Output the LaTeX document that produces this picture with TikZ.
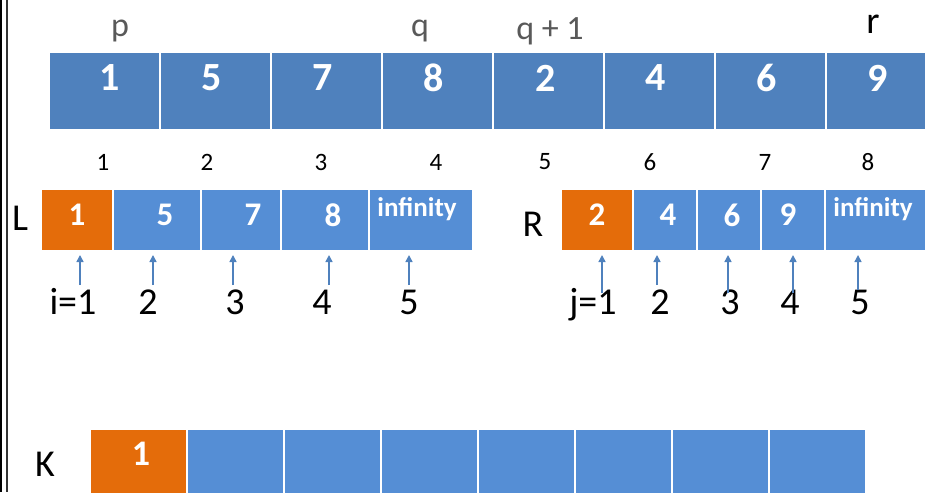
\documentclass[tikz,border=0pt]{standalone}
\usepackage{fontspec}
\setmainfont{Carlito}
\usetikzlibrary{arrows.meta}
\definecolor{topblue}{HTML}{4F81BD}
\definecolor{lowblue}{HTML}{558ED5}
\definecolor{orng}{HTML}{E46C0A}
\definecolor{grayink}{HTML}{595959}
\newcommand{\fs}[1]{\fontsize{#1}{#1}\selectfont}

\begin{document}
\begin{tikzpicture}[x=1pt,y=-1pt,>={Triangle[width=7pt,length=7pt]},
  cell/.style={inner sep=0pt,outer sep=0pt,draw=none},
  num/.style={white,font=\fs{33}\bfseries,inner sep=0pt},
  inf/.style={white,font=\fs{27}\bfseries,inner sep=0pt},
  idx/.style={font=\fs{38},anchor=base,inner sep=0pt},
  ptr/.style={->,topblue,line width=1.5pt,shorten >=5pt}]
  \useasboundingbox (0,0) rectangle (925,492);
  \clip (0,0) rectangle (925,492);
  % page edge
  \draw[line width=2.5pt] (1,0) -- (1,492);
  \draw[line width=1.2pt,black!80] (7,0) -- (7,492);
  % array A[p..r]
  \foreach \a/\b [count=\k] in {50/159,161/270,272/381,383/492,494/603,605/714,716/825,827/936}
    \node[cell,fill=topblue,anchor=north west,minimum width={\b-\a},minimum height=76] (A\k) at (\a,53) {};
  \foreach \x/\n [count=\k] in {110/1,212/5,323/7,434/8,546/2,656/4,767/6,878/9}
    \node[num,font=\fs{40}\bfseries] (An\k) at (\x,78) {\n};
  \node[grayink,font=\fs{34}] (p) at (120,31) {p};
  \node[grayink,font=\fs{34}] (q) at (420,31) {q};
  \node[grayink,font=\fs{34}] (q1) at (550,31) {q + 1};
  \node[font=\fs{38}] (r) at (873,24) {r};
  % indices
  \foreach \x [count=\k] in {103,207,321,436,545,650,765,868}
    \node[font=\fs{25}] (ix\k) at (\x,162) {\k};
  % left half
  \node[font=\fs{38}] (Ltag) at (20,218) {L};
  \node[cell,fill=orng,anchor=north west,minimum width=70,minimum height=60] (L1) at (42,190) {};
  \foreach \a/\b [count=\k from 2] in {114/200,202/280,282/368,370/472}
    \node[cell,fill=lowblue,anchor=north west,minimum width={\b-\a},minimum height=60] (L\k) at (\a,190) {};
  \foreach \x/\n [count=\k] in {77/1,165/5,253/7,333/8}
    \node[num] (Ln\k) at (\x,215) {\n};
  \node[inf] (Ln5) at (417,209) {infinity};
  % right half
  \node[font=\fs{38}] (Rtag) at (533,224) {R};
  \node[cell,fill=orng,anchor=north west,minimum width=70,minimum height=60] (R1) at (562,190) {};
  \foreach \a/\b [count=\k from 2] in {634/696,698/760,762/824,826/936}
    \node[cell,fill=lowblue,anchor=north west,minimum width={\b-\a},minimum height=60] (R\k) at (\a,190) {};
  \foreach \x/\n [count=\k] in {597/2,668/4,732/6,788/9}
    \node[num] (Rn\k) at (\x,215) {\n};
  \node[inf] (Rn5) at (873,209) {infinity};
  % pointers i
  \foreach \x/\t [count=\k] in {73/i=1,148/2,235/3,322/4,409/5}
    \node[idx] (i\k) at (\x,314) {\t};
  \foreach \x [count=\k] in {80,153,233,329,409}{
    \coordinate (ti\k) at (\x,285);
    \draw[ptr] (ti\k) -- (ti\k |- L1.south);
  }
  % pointers j
  \foreach \x/\t [count=\k] in {593/j=1,660/2,730/3,790/4,860/5}
    \node[idx] (j\k) at (\x,314) {\t};
  \foreach \x/\y [count=\k] in {602/293,657/285,728/293,793/293,858/290}{
    \coordinate (tj\k) at (\x,\y);
    \draw[ptr] (tj\k) -- (tj\k |- R1.south);
  }
  % output K
  \node[font=\fs{38}] (Ktag) at (45,464) {K};
  \node[cell,fill=orng,anchor=north west,minimum width=95,minimum height=64] (K1) at (91,430) {};
  \foreach \a [count=\k from 2] in {188,285,382,479,576,673,770}
    \node[cell,fill=lowblue,anchor=north west,minimum width=95,minimum height=64] (K\k) at (\a,430) {};
  \node[num,font=\fs{36}\bfseries] (Kn1) at (141,454) {1};
\end{tikzpicture}
\end{document}
